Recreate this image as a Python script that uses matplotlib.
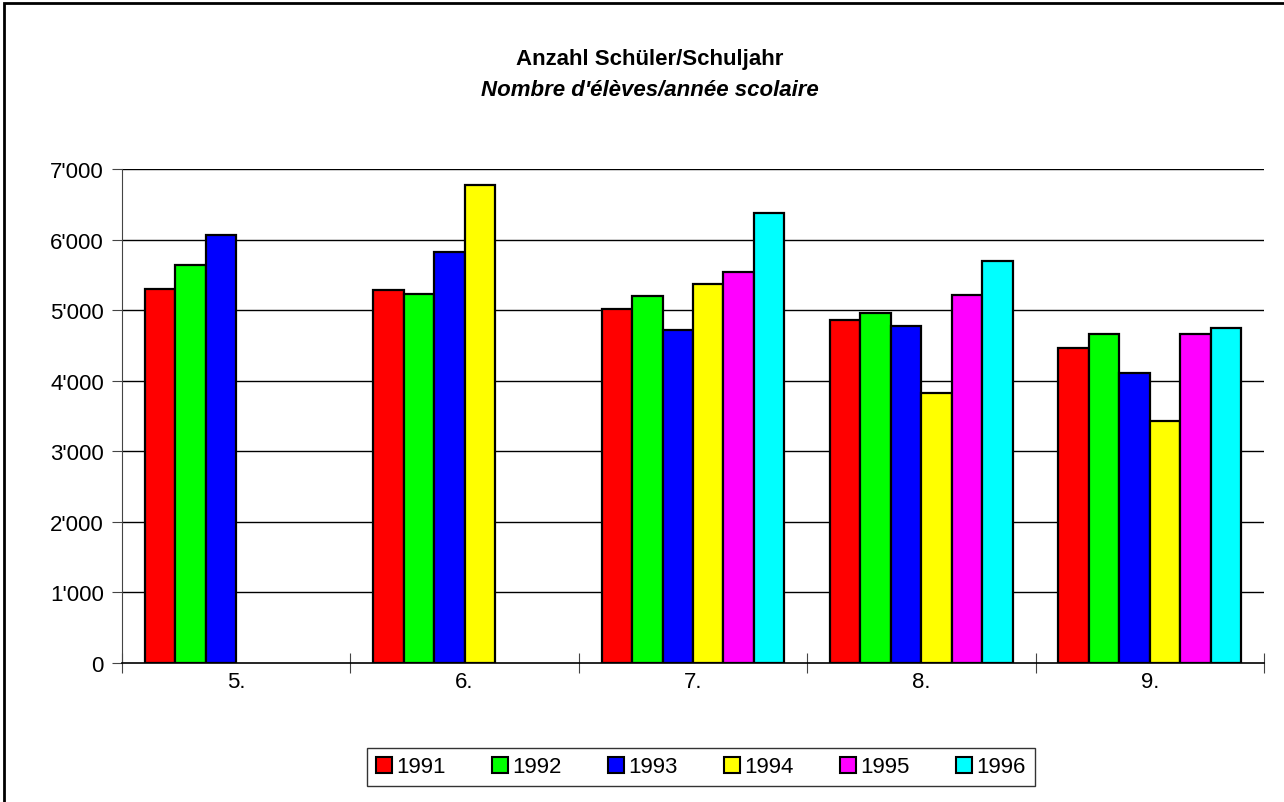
import matplotlib
matplotlib.use("Agg")
import matplotlib.pyplot as plt
from matplotlib.patches import Patch, Rectangle
import numpy as np

plt.rcParams['font.family'] = ['Liberation Sans', 'DejaVu Sans']

# -----------------------------------------------------------------------
# Data
# -----------------------------------------------------------------------
categories = ["5.", "6.", "7.", "8.", "9."]
years = ["1991", "1992", "1993", "1994", "1995", "1996"]
nan = np.nan
v1991 = [5300, 5280, 5010, 4860, 4470]
v1992 = [5640, 5230, 5200, 4960, 4660]
v1993 = [6060, 5830, 4720, 4780, 4110]
v1994 = [nan, 6780, 5370, 3820, 3430]
v1995 = [nan, nan, 5540, 5210, 4660]
v1996 = [nan, nan, 6370, 5690, 4740]
series = [v1991, v1992, v1993, v1994, v1995, v1996]
colors = ["#ff0000", "#00ff00", "#0000ff", "#ffff00", "#ff00ff", "#00ffff"]
yticks = [0, 1000, 2000, 3000, 4000, 5000, 6000, 7000]

FS = 16

# -----------------------------------------------------------------------
# Plot
# -----------------------------------------------------------------------
fig = plt.figure(figsize=(12.84, 8.03), dpi=100)
ax = fig.add_axes([122 / 1284, 1 - 664 / 803, (1264 - 122) / 1284, (664 - 170) / 803])

x = np.arange(len(categories))
w = 0.8 / len(series)
for i, (vals, col) in enumerate(zip(series, colors)):
    ax.bar(x - 0.4 + w * (i + 0.5), vals, width=w, color=col,
           edgecolor="black", linewidth=1.6, zorder=3, label=years[i])

for yv in yticks[1:]:
    ax.axhline(yv, color="black", linewidth=1.0, zorder=1)

ax.set_xlim(-0.5, len(categories) - 0.5)
ax.set_ylim(0, 7000)
ax.set_yticks(yticks)
ax.set_yticklabels([f"{v:,}".replace(",", "'") for v in yticks], fontsize=FS)

ax.set_xticks(np.arange(len(categories) + 1) - 0.5)
ax.set_xticklabels([])
ax.set_xticks(x, minor=True)
ax.set_xticklabels(categories, minor=True, fontsize=FS)
ax.tick_params(axis="x", which="major", direction="inout", length=14, color="#444444")
ax.tick_params(axis="x", which="minor", length=0, pad=6)
ax.tick_params(axis="y", direction="out", length=7, color="#444444", pad=6)

for s in ["top", "right"]:
    ax.spines[s].set_visible(False)
ax.spines["left"].set_color("#444444")
ax.spines["bottom"].set_color("black")
ax.spines["bottom"].set_linewidth(1.2)

# titles
fig.text(650 / 1284, 1 - 65 / 803, "Anzahl Schüler/Schuljahr", ha="center", va="baseline",
         fontsize=FS, fontweight="bold")
fig.text(650 / 1284, 1 - 96 / 803, "Nombre d'élèves/année scolaire", ha="center", va="baseline",
         fontsize=FS, fontweight="bold", style="italic")

# legend
handles = [Patch(facecolor=c, edgecolor="black", linewidth=1.5) for c in colors]
leg = fig.legend(handles, years, loc="center", ncol=6,
                 bbox_to_anchor=(701 / 1284, 1 - 768 / 803), fontsize=FS,
                 frameon=True, fancybox=False, edgecolor="black",
                 handlelength=0.7, handleheight=0.7, handletextpad=0.2,
                 columnspacing=2.1, borderpad=0.4)
leg.get_frame().set_linewidth(1.0)

# outer border
fig.patches.append(Rectangle((4 / 1284, -0.1), 1.2, 1 - 4 / 803 + 0.1, transform=fig.transFigure,
                             fill=False, edgecolor="black", linewidth=2))

fig.savefig("out.png", dpi=100)
